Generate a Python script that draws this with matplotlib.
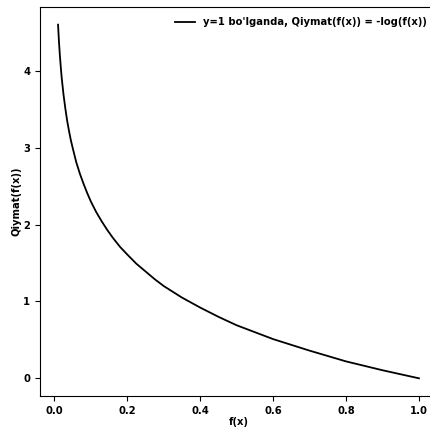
import matplotlib
matplotlib.use("Agg")
from matplotlib import pyplot as plt

# values
fx = [0.01, 0.0125, 0.015, 0.0175, 0.02, 0.025, 0.03, 0.035, 0.04, 0.045, 0.05,
      0.06, 0.07, 0.08, 0.09, 0.1, 0.115, 0.13, 0.145, 0.16, 0.18, 0.2, 0.225,
      0.25, 0.275, 0.3, 0.35, 0.4, 0.45, 0.5, 0.55, 0.6, 0.7, 0.8, 0.9, 1.0]
qiymat = [4.60, 4.38, 4.20, 4.05, 3.91, 3.69, 3.51, 3.35, 3.22, 3.10, 3.00,
          2.81, 2.66, 2.53, 2.41, 2.30, 2.16, 2.04, 1.93, 1.83, 1.71, 1.61, 1.49,
          1.39, 1.29, 1.20, 1.05, 0.92, 0.80, 0.69, 0.60, 0.51, 0.36, 0.22, 0.105, 0.0]
xticks = [0.0, 0.2, 0.4, 0.6, 0.8, 1.0]
yticks = [0, 1, 2, 3, 4]

plt.rcParams["font.weight"] = "bold"
plt.rcParams["font.size"] = 7.2

fig = plt.figure(figsize=(4.3, 4.3), dpi=100)
ax = fig.add_axes([40 / 430, 34 / 430, 397 / 430, 389 / 430])
ax.plot(fx, qiymat, c="black", lw=1.3,
        label="y=1 bo'lganda, Qiymat(f(x)) = -log(f(x))")
ax.set_xticks(xticks)
ax.set_yticks(yticks)
ax.set_xlabel("f(x)", fontweight="bold", labelpad=1)
ax.set_ylabel("Qiymat(f(x))", fontweight="bold", labelpad=1)
ax.legend(loc="upper right", frameon=False, borderaxespad=0.6)
plt.savefig("out.png", dpi=100)
plt.close()
